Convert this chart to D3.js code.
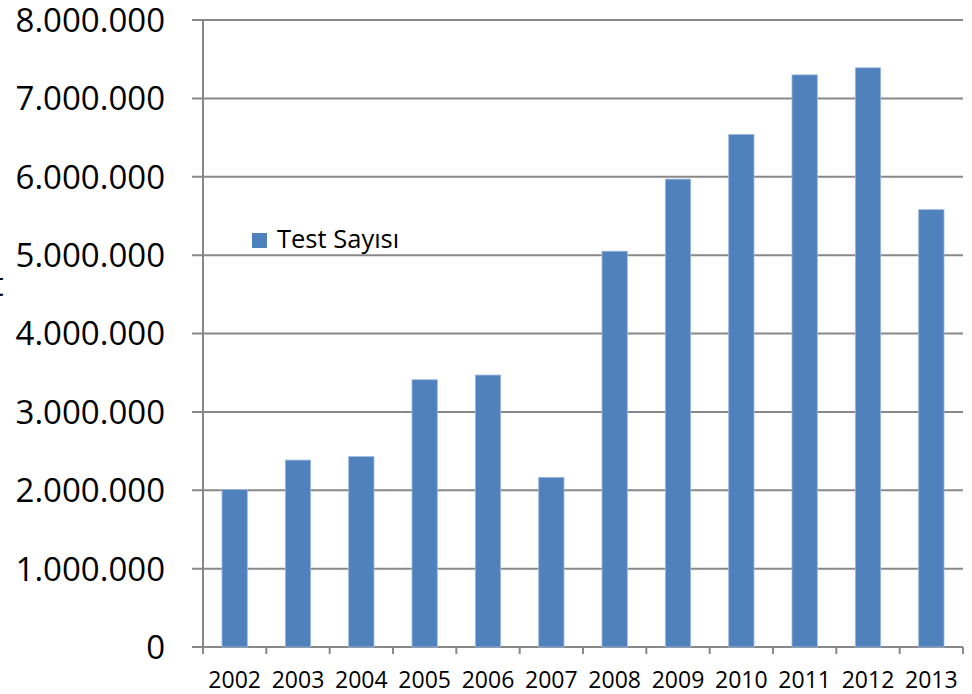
<!DOCTYPE html>
<html lang="tr">
<head>
<meta charset="UTF-8">
<title>Test Sayısı</title>
<script src="https://cdn.jsdelivr.net/npm/d3@7"></script>
<style>
  body { margin: 0; background: #fff; }
  svg text { font-family: "Open Sans", sans-serif; fill: #000; }
</style>
</head>
<body>
<div id="grafica"></div>
<script>
// data
const years = ['2002','2003','2004','2005','2006','2007','2008','2009','2010','2011','2012','2013']
const testSayisi = [2010000, 2385000, 2430000, 3410000, 3470000, 2165000, 5050000, 5970000, 6540000, 7300000, 7390000, 5580000]
const yTicks = [0, 1000000, 2000000, 3000000, 4000000, 5000000, 6000000, 7000000, 8000000]
const seriesName = 'Test Sayısı'

const ancho = 972, alto = 694
const mLeft = 203, mRight = 963, mTop = 20, mBottom = 647
const gridColor = '#888888'
const barColor = '#4F81BD'

const svg = d3.select('#grafica')
  .append('svg')
  .attr('width', ancho)
  .attr('height', alto)

const x = d3.scaleBand().domain(years).range([mLeft, mRight]).paddingInner(0.6).paddingOuter(0.3)
const y = d3.scaleLinear().domain([0, 8000000]).range([mBottom, mTop])

const fmt = v => v === 0 ? '0' : d3.format(',')(v).replace(/,/g, '.')

// gridlines + y ticks
svg.append('g').selectAll('line').data(yTicks).enter()
  .append('line')
  .attr('x1', mLeft - 11).attr('x2', mRight)
  .attr('y1', d => y(d)).attr('y2', d => y(d))
  .attr('stroke', gridColor).attr('stroke-width', 2)

svg.append('g').selectAll('text').data(yTicks).enter()
  .append('text')
  .attr('x', 165)
  .attr('y', d => y(d))
  .attr('dy', '0.36em')
  .attr('text-anchor', 'end')
  .style('font-size', '33px')
  .text(fmt)

// bars
svg.append('g').selectAll('rect').data(testSayisi).enter()
  .append('rect')
  .attr('x', (d, i) => x(years[i]))
  .attr('y', d => y(d))
  .attr('width', x.bandwidth())
  .attr('height', d => mBottom - y(d))
  .attr('fill', barColor)
  .attr('stroke', '#9fbbdc')
  .attr('stroke-width', 0.8)

// axes lines
svg.append('line')
  .attr('x1', mLeft).attr('x2', mLeft)
  .attr('y1', mTop).attr('y2', mBottom)
  .attr('stroke', gridColor).attr('stroke-width', 2)

const xTickPos = d3.range(years.length + 1).map(i => mLeft + i * (mRight - mLeft) / years.length)
svg.append('g').selectAll('line').data(xTickPos).enter()
  .append('line')
  .attr('x1', d => d).attr('x2', d => d)
  .attr('y1', mBottom).attr('y2', mBottom + 7)
  .attr('stroke', gridColor).attr('stroke-width', 2)

svg.append('g').selectAll('text').data(years).enter()
  .append('text')
  .attr('x', d => x(d) + x.bandwidth() / 2)
  .attr('y', 688)
  .attr('text-anchor', 'middle')
  .style('font-size', '23px')
  .text(d => d)

// legend
svg.append('rect')
  .attr('x', 252).attr('y', 233)
  .attr('width', 15).attr('height', 15)
  .attr('fill', barColor)
svg.append('text')
  .attr('x', 277).attr('y', 248)
  .style('font-size', '25.5px')
  .text(seriesName)

// cut-off axis title at the left edge
svg.append('text')
  .attr('x', -8).attr('y', 296)
  .style('font-size', '33px')
  .text('t')
</script>
</body>
</html>
